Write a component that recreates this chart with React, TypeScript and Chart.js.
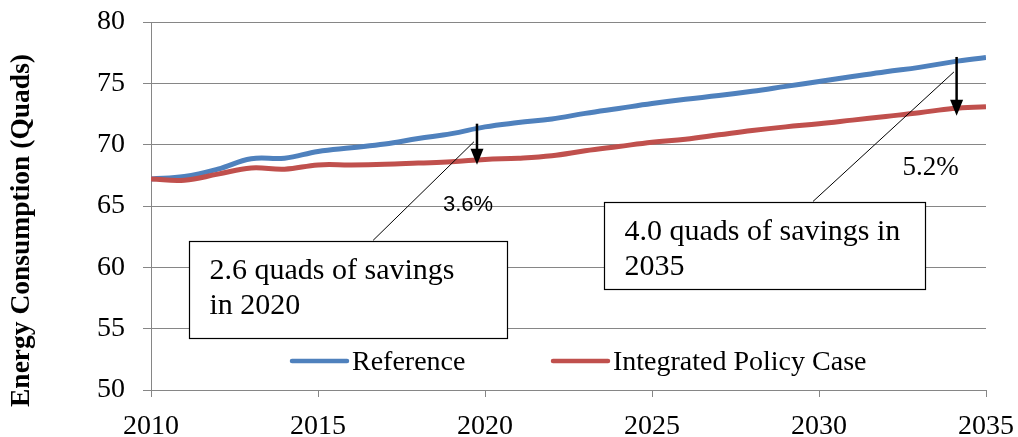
import React, { useEffect, useRef } from "react";
import { Chart, registerables } from "chart.js";

Chart.register(...registerables);

const years = [2010, 2011, 2012, 2013, 2014, 2015, 2016, 2017, 2018, 2019, 2020, 2021, 2022, 2023, 2024, 2025, 2026, 2027, 2028, 2029, 2030, 2031, 2032, 2033, 2034, 2035];
const referenceValues = [67.2, 67.4, 68.0, 68.85, 68.9, 69.45, 69.75, 70.05, 70.5, 70.9, 71.45, 71.8, 72.1, 72.55, 72.95, 73.35, 73.7, 74.0, 74.35, 74.75, 75.15, 75.55, 75.95, 76.3, 76.75, 77.1];
const policyValues = [67.2, 67.1, 67.6, 68.1, 68.0, 68.35, 68.35, 68.4, 68.5, 68.6, 68.8, 68.9, 69.1, 69.5, 69.85, 70.2, 70.45, 70.8, 71.15, 71.45, 71.7, 72.0, 72.3, 72.6, 72.95, 73.1];
const seriesNames = ["Reference", "Integrated Policy Case"];
const seriesColors = ["#4F81BD", "#C0504D"];
const yAxisTitle = "Energy Consumption (Quads)";

// annotations (data coordinates)
const arrows = [
  { x: 2019.76, from: 71.71, to: 68.37 },
  { x: 2034.12, from: 77.15, to: 72.36 },
];
const leaders = [
  { x1: 2016.65, y1: 62.2, x2: 2019.67, y2: 70.24 },
  { x1: 2029.82, y1: 65.37, x2: 2034.04, y2: 75.93 },
];
const boxes = [
  { x1: 2011.15, y1: 62.14, x2: 2020.67, y2: 54.23, lines: ["2.6 quads of savings", "in 2020"] },
  { x1: 2023.56, y1: 65.31, x2: 2033.18, y2: 58.21, lines: ["4.0 quads of savings in", "2035"] },
];
const pctLabels = [
  { x: 2018.74, y: 64.58, text: "3.6%", sans: true },
  { x: 2032.5, y: 67.56, text: "5.2%", sans: false },
];

const SERIF = '"Liberation Serif", "Times New Roman", serif';
const SANS = '"Liberation Sans", Arial, sans-serif';
const GRID = "#868686";

const annotationPlugin = {
  id: "annotations",
  afterDraw(chart: any) {
    const ctx = chart.ctx as CanvasRenderingContext2D;
    const xs = chart.scales.x;
    const ys = chart.scales.y;
    const area = chart.chartArea;
    ctx.save();

    // legend inside plot
    const legY = area.bottom - 29;
    const legItems = [
      { x: area.left + 141, name: seriesNames[0], color: seriesColors[0] },
      { x: area.left + 402, name: seriesNames[1], color: seriesColors[1] },
    ];
    ctx.font = `28px ${SERIF}`;
    ctx.textBaseline = "alphabetic";
    ctx.textAlign = "left";
    legItems.forEach((it) => {
      ctx.strokeStyle = it.color;
      ctx.lineWidth = 4.5;
      ctx.lineCap = "round";
      ctx.beginPath();
      ctx.moveTo(it.x, legY);
      ctx.lineTo(it.x + 55, legY);
      ctx.stroke();
      ctx.fillStyle = "#000";
      ctx.fillText(it.name, it.x + 60, legY + 8.5);
    });
    ctx.lineCap = "butt";

    // leader lines
    ctx.strokeStyle = "#000";
    ctx.lineWidth = 1;
    leaders.forEach((l) => {
      ctx.beginPath();
      ctx.moveTo(xs.getPixelForValue(l.x1), ys.getPixelForValue(l.y1));
      ctx.lineTo(xs.getPixelForValue(l.x2), ys.getPixelForValue(l.y2));
      ctx.stroke();
    });

    // boxes
    boxes.forEach((b) => {
      const x1 = Math.round(xs.getPixelForValue(b.x1)) + 0.5;
      const x2 = Math.round(xs.getPixelForValue(b.x2)) + 0.5;
      const y1 = Math.round(ys.getPixelForValue(b.y1)) + 0.5;
      const y2 = Math.round(ys.getPixelForValue(b.y2)) + 0.5;
      ctx.fillStyle = "#fff";
      ctx.fillRect(x1, y1, x2 - x1, y2 - y1);
      ctx.strokeStyle = "#000";
      ctx.lineWidth = 1.2;
      ctx.strokeRect(x1, y1, x2 - x1, y2 - y1);
      ctx.fillStyle = "#000";
      ctx.font = `30px ${SERIF}`;
      b.lines.forEach((t, i) => {
        ctx.fillText(t, x1 + 20, y1 + 37.5 + i * 34.5);
      });
    });

    // arrows
    arrows.forEach((a) => {
      const x = xs.getPixelForValue(a.x);
      const yTop = ys.getPixelForValue(a.from);
      const yTip = ys.getPixelForValue(a.to);
      ctx.strokeStyle = "#000";
      ctx.lineWidth = 2.5;
      ctx.beginPath();
      ctx.moveTo(x, yTop);
      ctx.lineTo(x, yTip - 14);
      ctx.stroke();
      ctx.fillStyle = "#000";
      ctx.beginPath();
      ctx.moveTo(x - 6.5, yTip - 16);
      ctx.lineTo(x + 6.5, yTip - 16);
      ctx.lineTo(x, yTip);
      ctx.closePath();
      ctx.fill();
    });

    // percent labels
    pctLabels.forEach((p) => {
      ctx.fillStyle = "#000";
      ctx.font = p.sans ? `22px ${SANS}` : `27px ${SERIF}`;
      ctx.fillText(p.text, xs.getPixelForValue(p.x), ys.getPixelForValue(p.y));
    });

    // y axis title
    ctx.save();
    ctx.translate(29, 230.5);
    ctx.rotate(-Math.PI / 2);
    ctx.font = `bold 27.5px ${SERIF}`;
    ctx.textAlign = "center";
    ctx.textBaseline = "alphabetic";
    ctx.fillStyle = "#000";
    ctx.fillText(yAxisTitle, 0, 0);
    ctx.restore();

    ctx.restore();
  },
};

export default function App() {
  const ref = useRef<HTMLCanvasElement | null>(null);
  useEffect(() => {
    if (!ref.current) return;
    const chart = new Chart(ref.current, {
      type: "line",
      data: {
        datasets: [
          {
            label: seriesNames[0],
            data: years.map((y, i) => ({ x: y, y: referenceValues[i] })),
            borderColor: seriesColors[0],
            backgroundColor: seriesColors[0],
            borderWidth: 5,
            pointRadius: 0,
            tension: 0.4,
            order: 1,
          },
          {
            label: seriesNames[1],
            data: years.map((y, i) => ({ x: y, y: policyValues[i] })),
            borderColor: seriesColors[1],
            backgroundColor: seriesColors[1],
            borderWidth: 5,
            pointRadius: 0,
            tension: 0.4,
            order: 0,
          },
        ],
      },
      options: {
        responsive: false,
        animation: false,
        layout: { padding: { left: 0, right: 32, top: 22, bottom: 0 } },
        plugins: { legend: { display: false }, tooltip: { enabled: false }, title: { display: false } },
        scales: {
          x: {
            type: "linear",
            min: 2010,
            max: 2035,
            ticks: {
              stepSize: 5,
              color: "#000",
              font: { family: SERIF, size: 28 },
              padding: 13,
              callback: (v: any) => String(v),
            },
            grid: { drawOnChartArea: false, color: GRID, tickLength: 7, lineWidth: 1 },
            border: { color: GRID, width: 1 },
            afterFit: (s: any) => {
              s.height = 47;
              s.paddingLeft = 0;
              s.paddingRight = 0;
              s.paddingTop = 0;
              s.paddingBottom = 0;
            },
          },
          y: {
            min: 50,
            max: 80,
            ticks: {
              stepSize: 5,
              color: "#000",
              font: { family: SERIF, size: 28 },
              padding: 18,
            },
            grid: { color: GRID, tickLength: 8, lineWidth: 1 },
            border: { color: GRID, width: 1 },
            afterFit: (s: any) => {
              s.width = 151;
              s.paddingLeft = 0;
              s.paddingRight = 0;
              s.paddingTop = 0;
              s.paddingBottom = 0;
            },
          },
        },
      },
      plugins: [annotationPlugin],
    });
    return () => chart.destroy();
  }, []);
  return (
    <div style={{ position: "absolute", left: 0, top: 0, width: 1018, height: 437, background: "#fff" }}>
      <canvas ref={ref} width={1018} height={437} style={{ display: "block" }} />
    </div>
  );
}
